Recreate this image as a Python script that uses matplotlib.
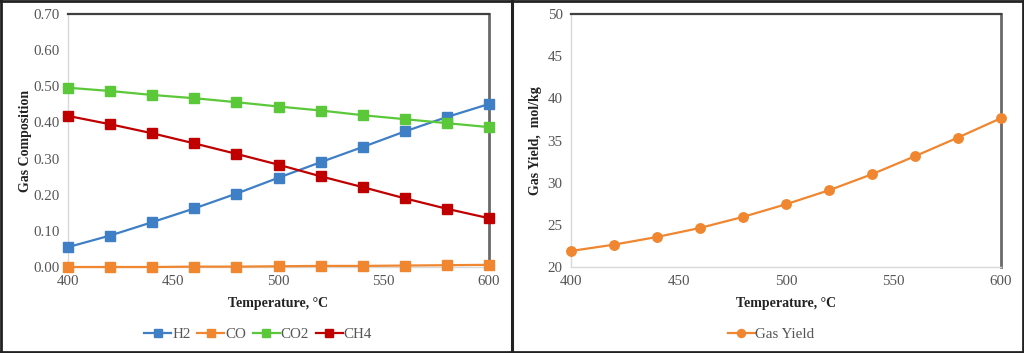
import matplotlib
matplotlib.use("Agg")
import matplotlib.pyplot as plt
from matplotlib.lines import Line2D

plt.rcParams['font.family'] = ['Liberation Serif', 'DejaVu Serif']

temps = [400, 420, 440, 460, 480, 500, 520, 540, 560, 580, 600]
h2 = [0.055, 0.087, 0.124, 0.162, 0.203, 0.247, 0.290, 0.332, 0.375, 0.415, 0.451]
co = [0.000, 0.000, 0.000, 0.001, 0.001, 0.002, 0.003, 0.003, 0.004, 0.005, 0.006]
co2 = [0.496, 0.487, 0.476, 0.467, 0.456, 0.444, 0.433, 0.420, 0.409, 0.398, 0.387]
ch4 = [0.418, 0.395, 0.370, 0.342, 0.313, 0.283, 0.251, 0.221, 0.190, 0.161, 0.135]
gas_yield = [21.9, 22.65, 23.56, 24.63, 25.94, 27.44, 29.10, 31.0, 33.14, 35.35, 37.65]

left_yticks = [0.0, 0.1, 0.2, 0.3, 0.4, 0.5, 0.6, 0.7]
right_yticks = [20, 25, 30, 35, 40, 45, 50]
xticks = [400, 450, 500, 550, 600]

colors = {'H2': '#3f7fc6', 'CO': '#f0862f', 'CO2': '#5bc83a', 'CH4': '#c00000'}
yield_color = '#f0862f'
tick_col = '#555555'

fig = plt.figure(figsize=(10.24, 3.53), dpi=100)
fig.patch.set_facecolor('white')

ax1 = fig.add_axes([68/1024, 1-267/353, (489-68)/1024, (267-14)/353])
ax2 = fig.add_axes([571/1024, 1-267/353, (1001-571)/1024, (267-14)/353])

series = [('H2', h2), ('CO', co), ('CO2', co2), ('CH4', ch4)]
for name, vals in series:
    ax1.plot(temps, vals, color=colors[name], marker='s', markersize=6.8,
             linewidth=1.6, label=name, clip_on=False, zorder=3)

ax2.plot(temps, gas_yield, color=yield_color, marker='o', markersize=6.8,
         linewidth=1.6, label='Gas Yield', clip_on=False, zorder=3)

def style(ax, yticks, fmt):
    ax.set_xlim(400, 600)
    ax.set_ylim(yticks[0], yticks[-1])
    ax.set_xticks(xticks)
    ax.set_yticks(yticks)
    ax.set_yticklabels([fmt(v) for v in yticks])
    ax.tick_params(length=0, labelsize=10.8, colors=tick_col, pad=6)
    ax.spines['left'].set_color('#d9d9d9')
    ax.spines['bottom'].set_color('#d9d9d9')
    ax.spines['left'].set_linewidth(1.0)
    ax.spines['bottom'].set_linewidth(1.0)
    ax.spines['top'].set_color('#404040')
    ax.spines['top'].set_linewidth(1.6)
    ax.spines['right'].set_color('#6a6a6a')
    ax.spines['right'].set_linewidth(2.0)
    ax.set_xlabel('Temperature, \u00b0C', fontsize=10, fontweight='bold',
                  color='#222222', labelpad=6)

style(ax1, left_yticks, lambda v: f'{v:.2f}')
style(ax2, right_yticks, lambda v: f'{v:d}')
ax1.set_ylabel('Gas Composition', fontsize=10, fontweight='bold', color='#222222', labelpad=1)
ax2.set_ylabel('Gas Yield,  mol/kg', fontsize=10, fontweight='bold', color='#222222', labelpad=4)

leg1 = fig.legend(handles=ax1.get_lines(), loc='center', bbox_to_anchor=(258/1024, 1-334/353),
                  ncol=4, frameon=False, fontsize=10.8, handlelength=1.8, handletextpad=0.05,
                  columnspacing=0.45, markerscale=0.85)
leg2 = fig.legend(handles=ax2.get_lines(), loc='center', bbox_to_anchor=(771/1024, 1-334/353),
                  ncol=1, frameon=False, fontsize=10.8, handlelength=1.8, handletextpad=0.05,
                  markerscale=0.85)
for leg in (leg1, leg2):
    for t in leg.get_texts():
        t.set_color(tick_col)

# panel frames
W, H = 1024, 353
def fl(x0, y0, x1, y1, lw=2.0, c='#222222'):
    fig.add_artist(Line2D([x0/W, x1/W], [1-y0/H, 1-y1/H], color=c, linewidth=lw,
                          transform=fig.transFigure))
fl(0.5, 0, 0.5, H)
fl(0, 0.5, W, 0.5)
fl(0, H-0.8, W, H-0.8)
fl(W-0.8, 0, W-0.8, H)
fl(512, 0, 512, H, lw=2.2)

fig.savefig('out.png', dpi=100, facecolor='white')
